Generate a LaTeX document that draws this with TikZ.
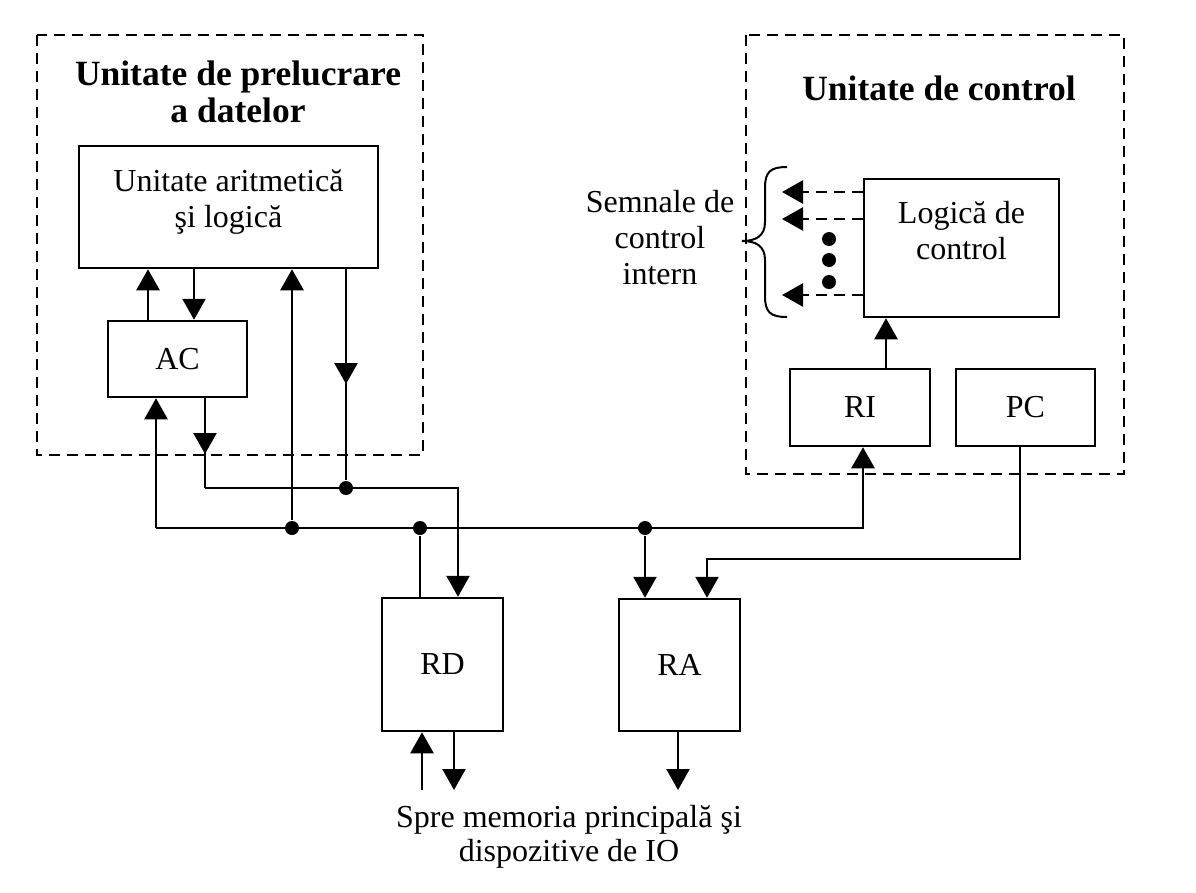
\documentclass[tikz,border=0pt]{standalone}
\usepackage{fontspec}
\setmainfont{Liberation Serif}
\usetikzlibrary{arrows.meta}
\begin{document}
\begin{tikzpicture}[x=1pt,y=-1pt,
  line width=2.5pt,
  box/.style={draw,rectangle,inner sep=0pt,font=\fontsize{32}{36}\selectfont,align=center},
  ttl/.style={font=\fontsize{35.5}{37}\selectfont\bfseries,align=center,inner sep=0pt},
  lbl/.style={font=\fontsize{32}{36}\selectfont,align=center,inner sep=0pt},
  arr/.style={-{Triangle[length=21pt,width=23pt]}},
  darr/.style={dash pattern=on 11pt off 7pt,-{Triangle[length=21pt,width=23pt]}},
  grp/.style={dash pattern=on 11pt off 7pt},
  dot/.style={circle,fill,inner sep=0pt,minimum size=14pt}]
\useasboundingbox (0,0) rectangle (1196,892);
% groups
\draw[grp] (37,35) rectangle (423,455);
\draw[grp] (746,35) rectangle (1124,474);
\node[ttl] (t1) at (238,92) {Unitate de prelucrare\\a datelor};
\node[ttl] (t2) at (939,88) {Unitate de control};
% boxes
\node[box,minimum width=299pt,minimum height=122pt] (ALU) at (228.5,207) {};
\node[lbl] (alut) at (228.5,202) {Unitate aritmetică\\şi logică};
\node[box,minimum width=139pt,minimum height=76pt] (AC) at (177.5,359) {AC};
\node[box,minimum width=121pt,minimum height=133pt] (RD) at (442.5,664.5) {RD};
\node[box,minimum width=121pt,minimum height=132pt] (RA) at (679.5,665) {RA};
\node[box,minimum width=195pt,minimum height=138pt] (LC) at (961.5,248) {};
\node[lbl] (lct) at (961.5,231) {Logică de\\control};
\node[box,minimum width=140pt,minimum height=77pt] (RI) at (860,407.5) {RI};
\node[box,minimum width=139pt,minimum height=77pt] (PC) at (1025.5,407.5) {PC};
% labels
\node[lbl] (sem) at (660,238) {Semnale de\\control\\intern};
\node[lbl,font=\fontsize{32}{34}\selectfont] (mem) at (569,837) {Spre memoria principală şi\\dispozitive de IO};
% junctions
\node[dot] (j1) at (292,528) {};
\node[dot] (j2) at (346,488) {};
\node[dot] (j3) at (420,528) {};
\node[dot] (j4) at (645,528) {};
% ALU <-> AC
\draw[arr] (148,0 |- AC.north) -- (148,0 |- ALU.south);
\draw[arr] (194,0 |- ALU.south) -- (194,0 |- AC.north);
% bus
\coordinate (bl) at (156,528);
\coordinate (br) at (863,528);
\draw[arr] (bl) -- (br) -- (863,0 |- RI.south);
\draw[arr] (bl) -- (bl |- AC.south);
\draw[arr] (j1) -- (j1 |- ALU.south);
% ALU output
\draw (346,0 |- ALU.south) -- (j2);
\draw[arr] (346,0 |- ALU.south) -- (346,384);
% AC output
\coordinate (acm) at (205,454);
\coordinate (acc) at (205,488);
\coordinate (rdc) at (458,488);
\draw (205,0 |- AC.south) -- (acc);
\draw[arr] (205,0 |- AC.south) -- (acm);
\draw[arr] (acc) -- (rdc) -- (rdc |- RD.north);
% RD, RA
\draw (j3) -- (j3 |- RD.north);
\draw[arr] (j4) -- (j4 |- RA.north);
\coordinate (pcc) at (1020,559);
\coordinate (rac) at (707,559);
\draw[arr] (1020,0 |- PC.south) -- (pcc) -- (rac) -- (rac |- RA.north);
\coordinate (rd1) at (422,790);
\coordinate (rd2) at (454,790);
\coordinate (ra1) at (678,790);
\draw[arr] (rd1) -- (rd1 |- RD.south);
\draw[arr] (rd2 |- RD.south) -- (rd2);
\draw[arr] (ra1 |- RA.south) -- (ra1);
% RI -> logic
\draw[arr] (886,0 |- RI.north) -- (886,0 |- LC.south);
% control signals
\coordinate (s1) at (782,192);
\coordinate (s2) at (782,219);
\coordinate (s3) at (782,295);
\draw[darr] (LC.west |- s1) -- (s1);
\draw[darr] (LC.west |- s2) -- (s2);
\draw[darr] (LC.west |- s3) -- (s3);
\node[dot,minimum size=14pt] (d1) at (829,239) {};
\node[dot,minimum size=14pt] (d2) at (829,260) {};
\node[dot,minimum size=14pt] (d3) at (829,282) {};
% brace
\draw[line width=2pt] (787,167) .. controls (770,167) and (765,172) .. (765,188) -- (765,222)
  .. controls (765,236) and (756,241) .. (742,241)
  .. controls (756,241) and (765,246) .. (765,260) -- (765,296)
  .. controls (765,312) and (770,317) .. (787,317);
\end{tikzpicture}
\end{document}
